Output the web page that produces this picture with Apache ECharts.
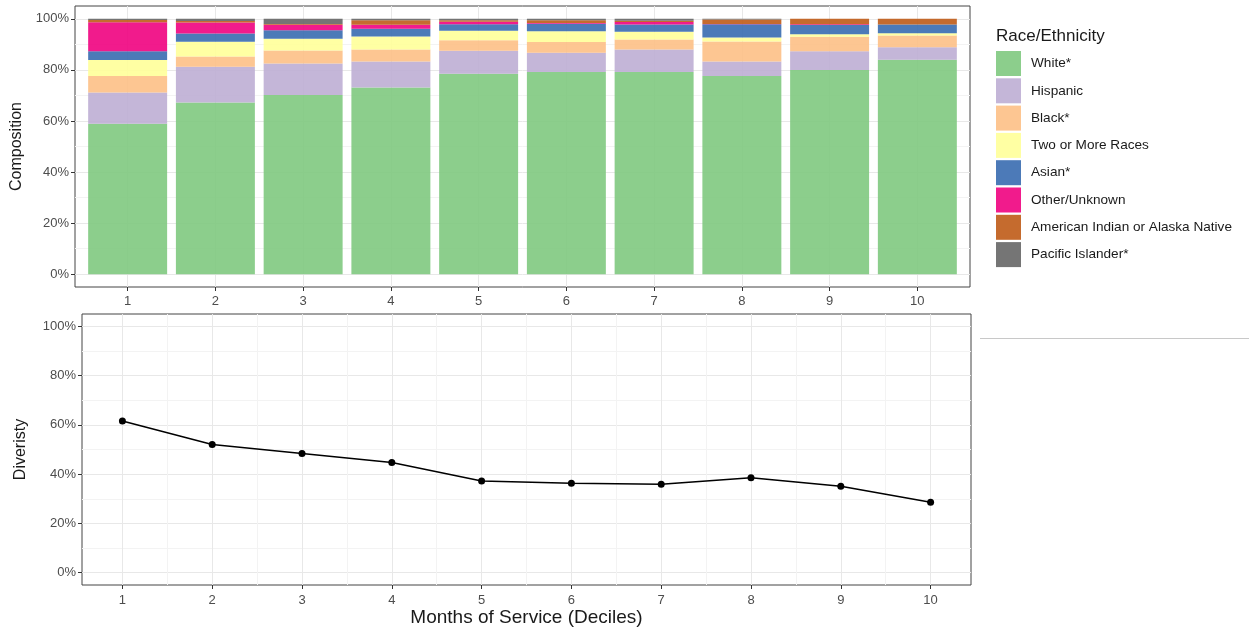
<!DOCTYPE html>
<html><head><meta charset="utf-8">
<script src="https://cdn.jsdelivr.net/npm/echarts@6/dist/echarts.min.js"></script>
<style>html,body{margin:0;padding:0;background:#fff}#c{width:1249px;height:633px}</style>
</head><body><div id="c"></div><script>
const deciles = [1, 2, 3, 4, 5, 6, 7, 8, 9, 10];
const decileLabels = ['1', '2', '3', '4', '5', '6', '7', '8', '9', '10'];
const yTicks = [0, 20, 40, 60, 80, 100];
const raceNames = ['White*', 'Hispanic', 'Black*', 'Two or More Races', 'Asian*', 'Other/Unknown', 'American Indian or Alaska Native', 'Pacific Islander*'];
const raceColors = ['#7FC97F', '#BEAED4', '#FDC086', '#FFFF99', '#386CB0', '#F0027F', '#BF5B17', '#666666'];
const white     = [58.9, 67.2, 70.2, 73.1, 78.5, 79.2, 79.2, 77.6, 79.9, 84.0];
const hispanic  = [12.2, 14.0, 12.3, 10.2,  9.0,  7.5,  8.8,  5.7,  7.4,  4.9];
const black     = [ 6.5,  4.0,  5.1,  4.7,  4.1,  4.2,  3.9,  7.8,  5.7,  4.6];
const twoOrMore = [ 6.3,  5.8,  4.6,  5.1,  3.7,  4.2,  3.0,  1.6,  0.9,  0.8];
const asian     = [ 3.4,  3.2,  3.3,  3.0,  2.6,  3.0,  2.9,  5.2,  3.7,  3.5];
const other     = [11.3,  4.3,  2.2,  1.6,  0.9,  0.2,  0.9,  0.1,  0.3,  0.0];
const amIndian  = [ 0.9,  0.6,  0.3,  1.7,  0.6,  1.1,  0.5,  1.7,  2.1,  2.2];
const pacific   = [ 0.5,  0.9,  2.0,  0.6,  0.6,  0.6,  0.8,  0.3,  0.0,  0.0];
const diversity = [61.6, 52.0, 48.4, 44.7, 37.2, 36.3, 35.9, 38.5, 35.1, 28.6];

const raceValues = [white, hispanic, black, twoOrMore, asian, other, amIndian, pacific];

const FONT = 'Liberation Sans, Arial, sans-serif';
const tickLabel = {color: '#4d4d4d', fontSize: 13, fontFamily: FONT};
const major = {show: true, lineStyle: {color: '#e8e8e8', width: 1}};
const minor = {show: true, lineStyle: {color: '#f3f3f3', width: 1}};
const tick = {show: true, length: 4, lineStyle: {color: '#333', width: 1}};

// top panel geometry: discrete axis expanded by 0.6 units each side
const TOP = {left: 75, top: 6, width: 895, height: 281};
const unitW = TOP.width / 10.2;

const chart = echarts.init(document.getElementById('c'), null, {renderer: 'canvas'});

const barSeries = raceNames.map((name, k) => ({
  name: name,
  type: 'bar',
  stack: 'comp',
  xAxisIndex: 2, yAxisIndex: 2,
  barWidth: '90%',
  itemStyle: {color: raceColors[k], opacity: 0.9},
  emphasis: {disabled: true},
  data: raceValues[k]
}));

chart.setOption({
  animation: false,
  title: {text: 'Race/Ethnicity', left: 991, top: 23,
    textStyle: {fontSize: 17, fontWeight: 'normal', color: '#1a1a1a', fontFamily: FONT}},
  legend: {
    orient: 'vertical', left: 991, top: 46,
    itemWidth: 25, itemHeight: 25, itemGap: 2.3, icon: 'rect',
    data: raceNames,
    selectedMode: false,
    textStyle: {fontSize: 13.6, color: '#1a1a1a', fontFamily: FONT, padding: [0, 0, 0, 5]}
  },
  grid: [
    {left: TOP.left, top: TOP.top, width: TOP.width, height: TOP.height, show: true, borderColor: '#444', borderWidth: 1, backgroundColor: 'transparent'},
    {left: 82, top: 314, width: 889, height: 271, show: true, borderColor: '#444', borderWidth: 1, backgroundColor: 'transparent'},
    {left: TOP.left + 0.1 * unitW, top: TOP.top, width: 10 * unitW, height: TOP.height, show: false}
  ],
  xAxis: [
    {gridIndex: 0, type: 'value', min: 0.4, max: 10.6, minInterval: 1, maxInterval: 1,
      axisLine: {show: false, onZero: false},
      axisTick: Object.assign({customValues: deciles}, tick),
      axisLabel: Object.assign({customValues: deciles, margin: 8}, tickLabel),
      splitLine: major},
    {gridIndex: 1, type: 'value', min: 0.55, max: 10.45, minInterval: 1, maxInterval: 1,
      axisLine: {show: false, onZero: false},
      axisTick: Object.assign({customValues: deciles}, tick),
      axisLabel: Object.assign({customValues: deciles, margin: 9}, tickLabel),
      splitLine: major,
      minorTick: {show: false, splitNumber: 2},
      minorSplitLine: minor,
      name: 'Months of Service (Deciles)', nameLocation: 'middle', nameGap: 23,
      nameTextStyle: {fontSize: 19, color: '#1a1a1a', fontFamily: FONT}},
    {gridIndex: 2, type: 'category', data: decileLabels, boundaryGap: true,
      axisLine: {show: false, onZero: false}, axisTick: {show: false}, axisLabel: {show: false}, splitLine: {show: false}}
  ],
  yAxis: [
    {gridIndex: 0, type: 'value', min: -5, max: 105, minInterval: 20, maxInterval: 20,
      axisLine: {show: false, onZero: false},
      axisTick: Object.assign({customValues: yTicks}, tick),
      axisLabel: Object.assign({customValues: yTicks, formatter: '{value}%', margin: 6}, tickLabel),
      splitLine: major,
      minorTick: {show: false, splitNumber: 2},
      minorSplitLine: minor,
      name: 'Composition', nameLocation: 'middle', nameGap: 45,
      nameTextStyle: {fontSize: 16, color: '#1a1a1a', fontFamily: FONT}},
    {gridIndex: 1, type: 'value', min: -5, max: 105, minInterval: 20, maxInterval: 20,
      axisLine: {show: false, onZero: false},
      axisTick: Object.assign({customValues: yTicks}, tick),
      axisLabel: Object.assign({customValues: yTicks, formatter: '{value}%', margin: 6}, tickLabel),
      splitLine: major,
      minorTick: {show: false, splitNumber: 2},
      minorSplitLine: minor,
      name: 'Diveristy', nameLocation: 'middle', nameGap: 53,
      nameTextStyle: {fontSize: 16, color: '#1a1a1a', fontFamily: FONT}},
    {gridIndex: 2, type: 'value', min: -5, max: 105,
      axisLine: {show: false, onZero: false}, axisTick: {show: false}, axisLabel: {show: false}, splitLine: {show: false}}
  ],
  graphic: [
    {type: 'line', shape: {x1: 980, y1: 338.5, x2: 1249, y2: 338.5}, style: {stroke: '#c8c8c8', lineWidth: 1}}
  ],
  series: barSeries.concat([{
    name: 'Diversity', type: 'line', xAxisIndex: 1, yAxisIndex: 1,
    data: deciles.map((d, i) => [d, diversity[i]]),
    lineStyle: {color: '#000', width: 1.5},
    itemStyle: {color: '#000'},
    symbol: 'circle', symbolSize: 7, showSymbol: true,
    emphasis: {disabled: true}
  }])
});
</script></body></html>
